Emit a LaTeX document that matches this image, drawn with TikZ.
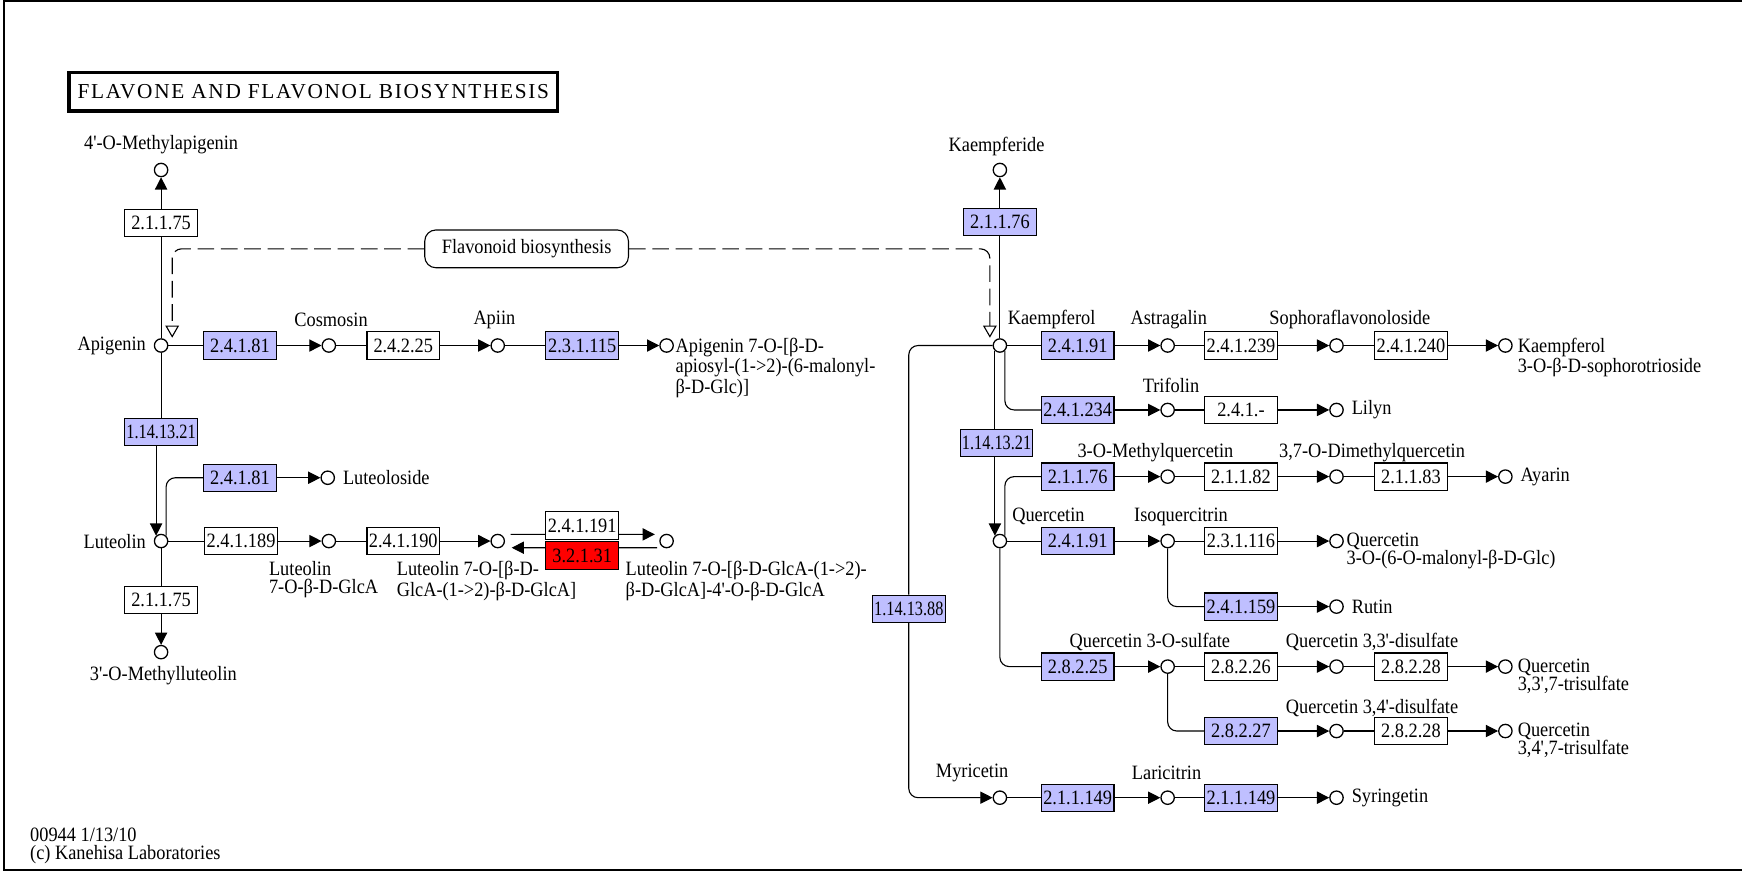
\documentclass[tikz,border=0pt]{standalone}
\usepackage{fontspec}
\newfontfamily\keggfont[FakeStretch=0.9]{Liberation Serif}
\newfontfamily\ecnarrow[FakeStretch=0.8]{Liberation Serif}
\newfontfamily\titlefont[LetterSpace=8]{Liberation Serif}
\usetikzlibrary{arrows.meta, positioning}
\definecolor{ecblue}{HTML}{BFBFFF}
\definecolor{ecred}{HTML}{FF0000}
\tikzset{
  every picture/.style={x=0.6pt, y=-0.6pt, line width=0.6pt, font=\keggfont\fontsize{11}{9.6}\selectfont},
  ec/.style={draw, fill=#1, minimum width=39.2pt, minimum height=14.7pt, inner sep=0.5pt},
  ec/.default=white,
  narrow/.style={font=\ecnarrow\fontsize{11}{11}\selectfont},
  cpd/.style={draw, circle, fill=white, minimum size=7.2pt, inner sep=0pt, line width=0.7pt},
  lbl/.style={inner sep=1pt, align=left},
  arrow/.style={-{Triangle[length=6.6pt, width=6.6pt]}},
  map/.style={draw, rounded corners=6pt, minimum width=110pt, minimum height=20.4pt, inner sep=2pt},
  maplink/.style={dash pattern=on 9pt off 3.6pt, rounded corners=5pt, -{Triangle[open, length=6.6pt, width=7.4pt, fill=white]}},
}

\begin{document}
\begin{tikzpicture}
  \useasboundingbox (0,0) rectangle (1568,788);
  % frame and title
  \draw[line width=1.2pt] (1575,1) -- (3.5,1) -- (3.5,783) -- (1575,783);
  \node[draw, line width=1.8pt, minimum width=264pt, minimum height=21pt, font=\titlefont\fontsize{11.5}{11.5}\selectfont] (title) at (282,82.5) {FLAVONE AND FLAVONOL BIOSYNTHESIS};
  \node[lbl, anchor=north west, font=\keggfont\fontsize{11}{10}\selectfont] (stamp) at (25,743) {00944 1/13/10\\(c) Kanehisa Laboratories};

  % link to the flavonoid map
  \node[map] (flav) at (474,224) {Flavonoid biosynthesis};
  \coordinate (flavapi) at (155,304);
  \coordinate (flavkae) at (891,304);
  \draw[maplink] (flav.west) -| (flavapi);
  \draw[maplink] (flav.east) -| (flavkae);

  % compounds
  \foreach \n/\x/\y in {methapi/145/153, api/145/311, cosm/296/311, apiin/448/311, apimal/600/311,
      lutsid/295/430, lut/145/487, lutg/296/487, lutgg/448/487, lutggg/600/487, methlut/145/587,
      kaeide/900/153, kae/900/311, astr/1051/311, soph/1203/311, kaesoph/1355/311,
      trif/1051/369, lilyn/1203/369, mquer/1051/429, dmquer/1203/429, ayarin/1355/429,
      que/900/487, isoq/1051/487, quemal/1203/487, rutin/1203/546,
      q3s/1051/600, q33s/1203/600, q337s/1355/600, q34s/1203/658, q347s/1355/658,
      myr/900/718, lari/1051/718, syr/1203/718}
    \node[cpd] (\n) at (\x,\y) {};

  % enzymes, left part
  \node[ec] (e21175a) at (145,201) {2.1.1.75};
  \node[ec=ecblue] (e24181a) at (216,311) {2.4.1.81};
  \node[ec] (e24225) at (363,311) {2.4.2.25};
  \node[ec=ecblue] (e231115) at (524,311) {2.3.1.115};
  \node[ec=ecblue, narrow] (e11413321a) at (145,389) {1.14.13.21};
  \node[ec=ecblue] (e24181b) at (216,430) {2.4.1.81};
  \node[ec] (e241189) at (217,487) {2.4.1.189};
  \node[ec] (e241190) at (363,487) {2.4.1.190};
  \node[ec] (e241191) at (524,473) {2.4.1.191};
  \node[ec=ecred] (e32131) at (524,500) {3.2.1.31};
  \node[ec] (e21175b) at (145,540) {2.1.1.75};

  % enzymes, right part
  \node[ec=ecblue] (e21176a) at (900,200) {2.1.1.76};
  \node[ec=ecblue] (e24191a) at (970,311) {2.4.1.91};
  \node[ec] (e241239) at (1117,311) {2.4.1.239};
  \node[ec] (e241240) at (1270,311) {2.4.1.240};
  \node[ec=ecblue] (e241234) at (970,369) {2.4.1.234};
  \node[ec] (e241x) at (1117,369) {2.4.1.-};
  \node[ec=ecblue, narrow] (e11413321b) at (897,399) {1.14.13.21};
  \node[ec=ecblue] (e21176b) at (970,429) {2.1.1.76};
  \node[ec] (e21182) at (1117,429) {2.1.1.82};
  \node[ec] (e21183) at (1270,429) {2.1.1.83};
  \node[ec=ecblue] (e24191b) at (970,487) {2.4.1.91};
  \node[ec] (e231116) at (1117,487) {2.3.1.116};
  \node[ec=ecblue] (e241159) at (1117,546) {2.4.1.159};
  \node[ec=ecblue, narrow] (e11413888) at (818,548) {1.14.13.88};
  \node[ec=ecblue] (e28225) at (970,600) {2.8.2.25};
  \node[ec] (e28226) at (1117,600) {2.8.2.26};
  \node[ec] (e28228a) at (1270,600) {2.8.2.28};
  \node[ec=ecblue] (e28227) at (1117,658) {2.8.2.27};
  \node[ec] (e28228b) at (1270,658) {2.8.2.28};
  \node[ec=ecblue] (e211149a) at (970,718) {2.1.1.149};
  \node[ec=ecblue] (e211149b) at (1117,718) {2.1.1.149};

  % compound names
  \node[lbl] (tmethapi) at (145,130) {4'-O-Methylapigenin};
  \node[lbl, left=3pt of api] (tapi) {Apigenin};
  \node[lbl] (tcosm) at (298,288) {Cosmosin};
  \node[lbl] (tapiin) at (445,288) {Apiin};
  \node[lbl, anchor=north west] (tapimal) at (606,302) {Apigenin 7-O-[β-D-\\apiosyl-(1->2)-(6-malonyl-\\β-D-Glc)]};
  \node[lbl, right=3pt of lutsid] (tlutsid) {Luteoloside};
  \node[lbl, left=3pt of lut] (tlut) {Luteolin};
  \node[lbl, anchor=north west] (tlutg) at (240,503) {Luteolin\\7-O-β-D-GlcA};
  \node[lbl, anchor=north west] (tlutgg) at (355,503) {Luteolin 7-O-[β-D-\\GlcA-(1->2)-β-D-GlcA]};
  \node[lbl, anchor=north west] (tlutggg) at (561,503) {Luteolin 7-O-[β-D-GlcA-(1->2)-\\β-D-GlcA]-4'-O-β-D-GlcA};
  \node[lbl] (tmethlut) at (147,608) {3'-O-Methylluteolin};
  \node[lbl] (tkaeide) at (897,132) {Kaempferide};
  \node[lbl, anchor=west] (tkae) at (905,288) {Kaempferol};
  \node[lbl] (tastr) at (1052,288) {Astragalin};
  \node[lbl] (tsoph) at (1215,288) {Sophoraflavonoloside};
  \node[lbl, anchor=north west] (tkaesoph) at (1364,302) {Kaempferol\\3-O-β-D-sophorotrioside};
  \node[lbl] (ttrif) at (1054,347) {Trifolin};
  \node[lbl, right=3pt of lilyn] (tlilyn) {Lilyn};
  \node[lbl] (tmquer) at (1040,407) {3-O-Methylquercetin};
  \node[lbl] (tdmquer) at (1235,407) {3,7-O-Dimethylquercetin};
  \node[lbl, right=3pt of ayarin] (tayarin) {Ayarin};
  \node[lbl, anchor=west] (tque) at (909,465) {Quercetin};
  \node[lbl] (tisoq) at (1063,465) {Isoquercitrin};
  \node[lbl, anchor=north west] (tquemal) at (1210,478) {Quercetin\\3-O-(6-O-malonyl-β-D-Glc)};
  \node[lbl, right=3pt of rutin] (trutin) {Rutin};
  \node[lbl] (tq3s) at (1035,578) {Quercetin 3-O-sulfate};
  \node[lbl] (tq33s) at (1235,578) {Quercetin 3,3'-disulfate};
  \node[lbl, anchor=north west] (tq337s) at (1364,591) {Quercetin\\3,3',7-trisulfate};
  \node[lbl] (tq34s) at (1235,637) {Quercetin 3,4'-disulfate};
  \node[lbl, anchor=north west] (tq347s) at (1364,649) {Quercetin\\3,4',7-trisulfate};
  \node[lbl] (tmyr) at (875,696) {Myricetin};
  \node[lbl] (tlari) at (1050,696) {Laricitrin};
  \node[lbl, right=3pt of syr] (tsyr) {Syringetin};

  % substrate to enzyme
  \foreach \a/\b in {api/e21175a, api/e24181a, cosm/e24225, apiin/e231115, api/e11413321a,
      lut/e241189, lutg/e241190, lut/e21175b, kae/e21176a, kae/e24191a, astr/e241239, soph/e241240,
      trif/e241x, mquer/e21182, dmquer/e21183, que/e24191b, isoq/e231116,
      q3s/e28226, q33s/e28228a, q34s/e28228b, myr/e211149a, lari/e211149b}
    \draw (\a) -- (\b);
  % enzyme to product
  \foreach \a/\b in {e21175a/methapi, e24181a/cosm, e24225/apiin, e231115/apimal, e24181b/lutsid,
      e241189/lutg, e241190/lutgg, e21175b/methlut, e21176a/kaeide, e24191a/astr, e241239/soph,
      e241240/kaesoph, e241234/trif, e241x/lilyn, e21176b/mquer, e21182/dmquer, e21183/ayarin,
      e24191b/isoq, e231116/quemal, e241159/rutin, e28225/q3s, e28226/q33s, e28228a/q337s,
      e28227/q34s, e28228b/q347s, e211149a/lari, e211149b/syr}
    \draw[arrow] (\a) -- (\b);

  % branches
  \draw[arrow] (e11413321a.south -| lut.133) -- (lut.133);
  \draw[rounded corners=5pt] (lut.47) |- (e24181b.west);
  \draw ([xshift=3pt,yshift=3.6pt]lutgg.east) -- ([yshift=-4.8pt]e241191.west);
  \draw[arrow] ([yshift=-4.8pt]e241191.east) -- ([xshift=-2.4pt,yshift=3.6pt]lutggg.west);
  \draw ([xshift=-1.2pt,yshift=-3.6pt]lutggg.west) -- ([yshift=4.2pt]e32131.east);
  \draw[arrow] ([yshift=4.2pt]e32131.west) -- ([xshift=3.6pt,yshift=-3.6pt]lutgg.east);
  \draw[rounded corners=5pt] (kae.313) |- (e241234.west);
  \draw (kae.227) -- (kae.227 |- e11413321b.north);
  \draw[arrow] (e11413321b.south -| que.133) -- (que.133);
  \draw[rounded corners=5pt] (que.47) |- (e21176b.west);
  \draw[rounded corners=5pt] (isoq.south) |- (e241159.west);
  \draw[rounded corners=5pt] (que.south) |- (e28225.west);
  \draw[rounded corners=5pt] (q3s.south) |- (e28227.west);
  \draw[rounded corners=5pt] (kae.west) -| (e11413888.north);
  \draw[arrow, rounded corners=5pt] (e11413888.south) |- (myr.west);
\end{tikzpicture}
\end{document}
